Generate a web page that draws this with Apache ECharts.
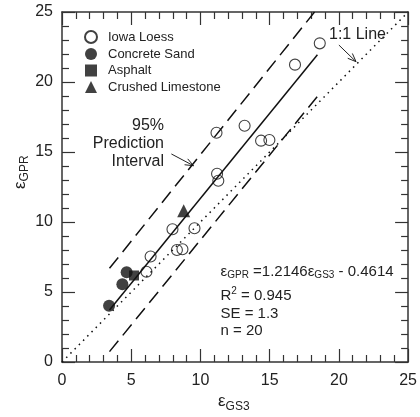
<!DOCTYPE html>
<html><head><meta charset="utf-8">
<script src="https://cdn.jsdelivr.net/npm/echarts@6/dist/echarts.min.js"></script>
<style>html,body{margin:0;padding:0;background:#fff}#c{width:420px;height:417px}</style>
</head><body><div id="c"></div>
<script>
const FONT = '"Liberation Sans", Arial, Helvetica, sans-serif';
const TXT = '#222';
// axis
const axisMin = 0, axisMax = 25, axisStep = 5;
const tickLabels = ['0','5','10','15','20','25'];
// data
const loessX = [18.62,16.83,13.19,11.16,14.38,14.98,11.20,11.29,9.57,7.98,8.30,8.70,6.40,6.10];
const loessY = [22.76,21.24,16.88,16.38,15.81,15.86,13.45,12.95,9.55,9.48,8.00,8.05,7.54,6.45];
const sandX = [3.40,4.36,4.67];
const sandY = [4.02,5.55,6.41];
const asphaltX = [5.20];
const asphaltY = [6.18];
const limeX = [8.79];
const limeY = [10.80];
// fitted line and prediction interval
const regX = [3.43,18.45];
const regY = [3.72,21.95];
const upX = [3.43,18.24];
const upY = [6.69,25.0];
const loX = [3.43,18.43];
const loY = [0.74,18.95];
const oneX = [0,25];
const oneY = [0,25];
// annotation arrows [from, to] in data coords
const arrow11 = [[20.0,22.64],[21.24,21.45]];
const arrowPI = [[7.9,14.86],[9.5,14.02]];

const zip = (a,b)=>a.map((v,i)=>[v,b[i]]);
const chart = echarts.init(document.getElementById('c'), null, {renderer:'canvas'});

function axisCommon(extra){
  return Object.assign({
    type:'value', min:axisMin, max:axisMax, interval:axisStep,
    axisLine:{show:true, onZero:false, lineStyle:{color:'#333', width:1.5}},
    axisTick:{show:true, inside:true, length:13, lineStyle:{color:'#333', width:1.2}},
    minorTick:{show:true, splitNumber:5, length:7, lineStyle:{color:'#333', width:1.2}},
    splitLine:{show:false}, minorSplitLine:{show:false},
    axisLabel:{show:true, fontSize:16, color:TXT, fontFamily:FONT, margin:11,
      formatter:(v)=>tickLabels[Math.round((v-axisMin)/axisStep)]}
  }, extra);
}
const lineS = (name, xs, ys, type, w)=>({
  name, type:'line', data:zip(xs,ys), showSymbol:false, symbol:'none', z:1,
  lineStyle:{color:'#111', width:w, type}, silent:true, animation:false
});

const option = {
  animation:false,
  grid:{left:62, right:9, top:12, bottom:55},
  xAxis:[axisCommon({position:'bottom'}), axisCommon({position:'top', axisLabel:{show:false}})],
  yAxis:[axisCommon({position:'left', axisLabel:{show:true, fontSize:16, color:TXT, fontFamily:FONT, margin:9,
      formatter:(v)=>tickLabels[Math.round((v-axisMin)/axisStep)]}}),
         axisCommon({position:'right', axisLabel:{show:false}})],
  legend:{
    orient:'vertical', left:79, top:25, itemWidth:12, itemHeight:12, itemGap:3.5,
    data:['Iowa Loess','Concrete Sand','Asphalt','Crushed Limestone'],
    formatter:'{a|{name}}',
    textStyle:{fontSize:13, color:TXT, fontFamily:FONT,
      rich:{a:{fontSize:13, color:TXT, fontFamily:FONT, padding:[0,0,0,6]}}}
  },
  series:[
    lineS('oneone', oneX, oneY, [1.5,4.5], 1.5),
    lineS('upper', upX, upY, [14,7], 1.5),
    lineS('lower', loX, loY, [14,7], 1.5),
    lineS('fit', regX, regY, 'solid', 1.5),
    {name:'Iowa Loess', type:'scatter', symbol:'circle', symbolSize:11, z:5, data:zip(loessX,loessY),
      itemStyle:{color:'rgba(255,255,255,0)', borderColor:'#111', borderWidth:1.1}},
    {name:'Concrete Sand', type:'scatter', symbol:'circle', symbolSize:12, z:5, data:zip(sandX,sandY),
      itemStyle:{color:'#111'}},
    {name:'Asphalt', type:'scatter', symbol:'rect', symbolSize:10, z:5, data:zip(asphaltX,asphaltY),
      itemStyle:{color:'#111'}},
    {name:'Crushed Limestone', type:'scatter', symbol:'triangle', symbolSize:13, z:5, data:zip(limeX,limeY),
      itemStyle:{color:'#111'}}
  ]
};
chart.setOption(option);

// text layout helpers
const ctx = document.createElement('canvas').getContext('2d');
function tw(t, fs){ ctx.font = fs + 'px ' + FONT; return ctx.measureText(t).width; }
function runs(parts, x, y, rot){
  let cx = 0; const children = [];
  parts.forEach(p=>{
    children.push({type:'text', x:cx, y:p.dy||0,
      style:{text:p.t, fontSize:p.fs, fontFamily:FONT, fill:TXT, align:'left', verticalAlign:'middle'}});
    cx += tw(p.t, p.fs);
  });
  return {type:'group', x, y, rotation:rot||0, children};
}
function txt(t, x, y, fs, align){
  return {type:'text', x, y, style:{text:t, fontSize:fs, fontFamily:FONT, fill:TXT, align:align||'left', verticalAlign:'middle'}};
}
function arrow(a){
  const p0 = chart.convertToPixel({xAxisIndex:0, yAxisIndex:0}, a[0]);
  const p1 = chart.convertToPixel({xAxisIndex:0, yAxisIndex:0}, a[1]);
  const ang = Math.atan2(p1[1]-p0[1], p1[0]-p0[0]);
  const L = 9, sp = 0.38;
  const h1 = [p1[0]-L*Math.cos(ang-sp), p1[1]-L*Math.sin(ang-sp)];
  const h2 = [p1[0]-L*Math.cos(ang+sp), p1[1]-L*Math.sin(ang+sp)];
  return [
    {type:'line', shape:{x1:p0[0], y1:p0[1], x2:p1[0], y2:p1[1]}, style:{stroke:'#222', lineWidth:1}},
    {type:'polyline', shape:{points:[h1,p1,h2]}, style:{stroke:'#222', lineWidth:1, fill:null}}
  ];
}
const E = '\u03b5';
const g = [
  runs([{t:E,fs:17},{t:'GS3',fs:12,dy:6}], 218, 401),
  runs([{t:E,fs:17},{t:'GPR',fs:12,dy:5}], 20, 189, Math.PI/2),
  runs([{t:E,fs:15},{t:'GPR',fs:10,dy:4},{t:' =1.2146',fs:15},{t:E,fs:15},{t:'GS3',fs:10,dy:4},{t:' - 0.4614',fs:15}], 220.5, 271.5),
  runs([{t:'R',fs:15},{t:'2',fs:10,dy:-5},{t:' = 0.945',fs:15}], 220.5, 296),
  txt('SE = 1.3', 220.5, 313.5, 15),
  txt('n = 20', 220.5, 331, 15),
  txt('95%', 164, 126, 16, 'right'),
  txt('Prediction', 164, 143.5, 16, 'right'),
  txt('Interval', 164, 161.5, 16, 'right'),
  txt('1:1 Line', 329, 35, 16),
  ...arrow(arrow11),
  ...arrow(arrowPI)
];
chart.setOption({graphic:g});
</script></body></html>
